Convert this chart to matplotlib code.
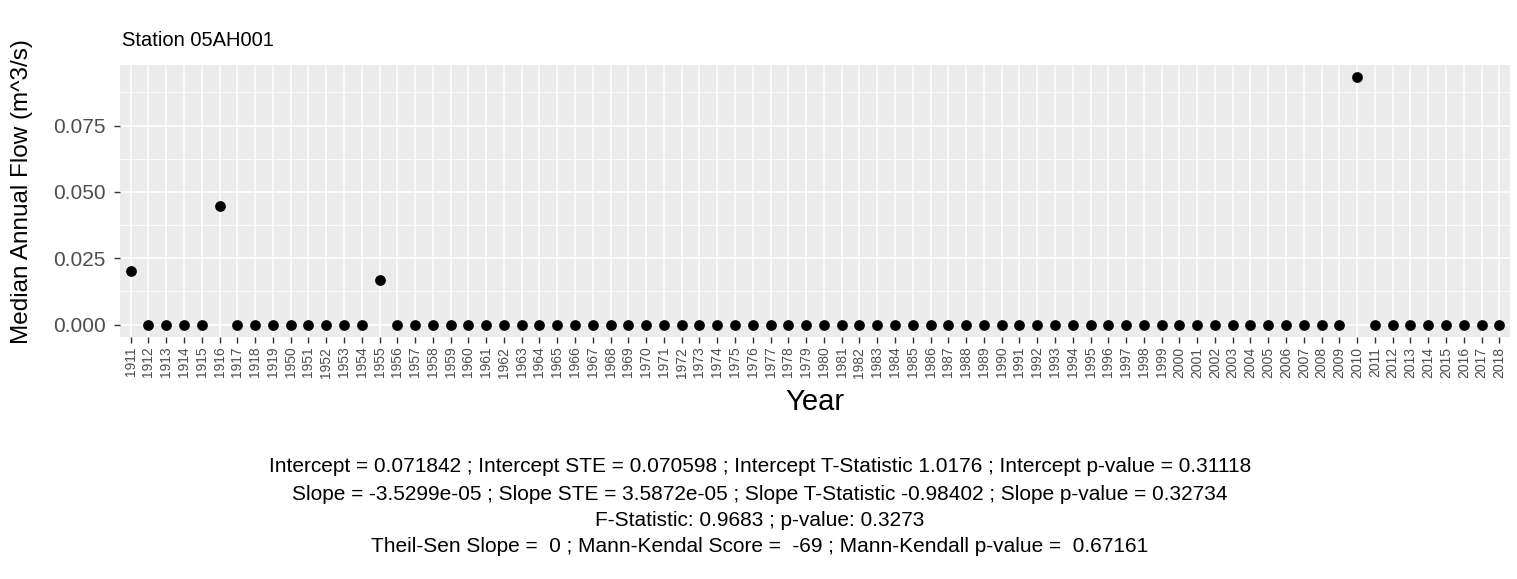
import matplotlib
matplotlib.use("Agg")
import matplotlib.pyplot as plt
import numpy as np

years = [str(y) for y in list(range(1911, 1920)) + list(range(1950, 2019))]
flow_nonzero = {"1911": 0.0201, "1916": 0.0449, "1955": 0.0168, "2010": 0.0932}
flow = [flow_nonzero.get(y, 0.0) for y in years]
yticks = [0.0, 0.025, 0.05, 0.075]
ytick_labels = ["0.000", "0.025", "0.050", "0.075"]
title = "Station 05AH001"
footer = [
    "Intercept = 0.071842 ; Intercept STE = 0.070598 ; Intercept T-Statistic 1.0176 ; Intercept p-value = 0.31118",
    "Slope = -3.5299e-05 ; Slope STE = 3.5872e-05 ; Slope T-Statistic -0.98402 ; Slope p-value = 0.32734",
    "F-Statistic: 0.9683 ; p-value: 0.3273",
    "Theil-Sen Slope =  0 ; Mann-Kendal Score =  -69 ; Mann-Kendall p-value =  0.67161",
]

plt.rcParams['font.family'] = ['Liberation Sans', 'DejaVu Sans']
W, H = 1517, 579
fig = plt.figure(figsize=(W/100, H/100), dpi=100)
ax = fig.add_axes([120/W, 1-337/H, (1510-120)/W, (337-65)/H])
ax.set_facecolor('#EBEBEB')
x = np.arange(len(years))
ax.scatter(x, flow, s=60, color='black', zorder=3, linewidths=0)

ymax = max(flow)
pad = ymax * 0.05
ax.set_ylim(-pad, ymax + pad)
ax.set_xlim(-0.6, len(years) - 1 + 0.6)
ax.set_xticks(x)
ax.set_xticklabels(years, rotation=90, fontsize=10, color='#4D4D4D')
ax.set_yticks(yticks)
ax.set_yticklabels(ytick_labels, fontsize=15, color='#4D4D4D')
ax.set_yticks([0.0125, 0.0375, 0.0625, 0.0875], minor=True)
ax.tick_params(axis='both', which='major', color='#333333', length=4, width=1, pad=3)
ax.tick_params(axis='y', which='major', pad=6.5)
ax.tick_params(axis='y', which='minor', length=0)
ax.grid(True, which='major', color='white', linewidth=1.1, zorder=0)
ax.grid(True, which='minor', axis='y', color='white', linewidth=0.55, zorder=0)
ax.set_axisbelow(True)
for s in ax.spines.values():
    s.set_visible(False)

fig.text(815/W, 1-402/H, "Year", fontsize=21, ha='center', va='center', color='black')
fig.text(22/W, 1-192/H, "Median Annual Flow (m^3/s)", fontsize=17.5, rotation=90,
         ha='center', va='center', color='black')
fig.text(122/W, 1-41/H, title, fontsize=14.5, ha='left', va='center', color='black')

ys = [467, 494, 520, 546]
for t, yy in zip(footer, ys):
    fig.text(760/W, 1-yy/H, t, fontsize=15, ha='center', va='center', color='black')

fig.savefig("out.png", dpi=100)
